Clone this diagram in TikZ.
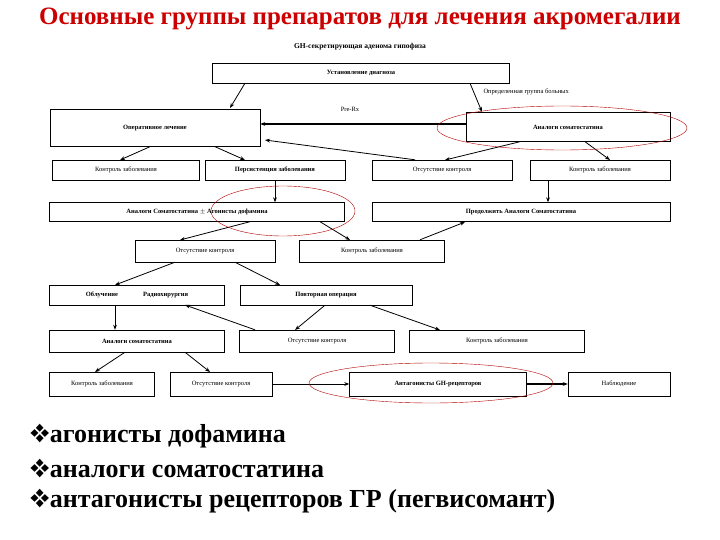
\documentclass[tikz,border=0pt]{standalone}
\usepackage{fontspec}
\setmainfont{Liberation Serif}
\usepackage{pifont}
\usetikzlibrary{arrows.meta}
\begin{document}
\begin{tikzpicture}[
    x=1pt, y=-1pt,
    box/.style = {
      shape=rectangle,
      draw,
      thin,
      align=center,
      inner sep=0pt,
      font=\fontsize{6.5}{7}\selectfont
    },
    bbox/.style = {
      box,
      font=\fontsize{6.5}{7}\selectfont\bfseries
    },
    arrow/.style = {
      -{Stealth[length=5pt]},
      thick
    },
    ring/.style = {
      draw=red!70!black,
      thin
    },
    bullet/.style = {
      anchor=west,
      font=\fontsize{26}{28}\selectfont\bfseries
    }
  ]
    \useasboundingbox (0,0) rectangle (720,540);

    % Title
    \node[text=red!80!black, font=\fontsize{25}{27}\selectfont\bfseries] (title) at (360,19)
      {Основные группы препаратов для лечения акромегалии};
    \node[font=\fontsize{7.5}{8}\selectfont\bfseries] (adenoma) at (360,47)
      {GH-секретирующая аденома гипофиза};

    % Top
    \node[bbox, minimum width=297, minimum height=20] (diagnoz) at (361,73) {Установление диагноза};
    \node[bbox, minimum width=210, minimum height=37] (operacia) at (155,128) {Оперативное лечение};
    \node[bbox, minimum width=204, minimum height=29] (analogi) at (568,127) {Аналоги соматостатина};

    % Second row
    \node[box, minimum width=147, minimum height=20] (kontrol1) at (126,170) {Контроль заболевания};
    \node[bbox, minimum width=140, minimum height=20] (persist) at (275,170) {Персистенция заболевания};
    \node[box, minimum width=140, minimum height=20] (otsut1) at (442,170) {Отсутствие контроля};
    \node[box, minimum width=140, minimum height=20] (kontrol2) at (600,170) {Контроль заболевания};

    % Third row
    \node[bbox, minimum width=295, minimum height=19] (agonisty) at (197,212) {Аналоги Соматостатина $\pm$ Агонисты дофамина};
    \node[bbox, minimum width=298, minimum height=19] (prodolzh) at (521,212) {Продолжить Аналоги Соматостатина};

    % Fourth row
    \node[box, minimum width=140, minimum height=22] (otsut2) at (205,251) {Отсутствие контроля};
    \node[box, minimum width=145, minimum height=22] (kontrol3) at (372,251) {Контроль заболевания};

    % Fifth row
    \node[bbox, minimum width=175, minimum height=20] (obluch) at (137,295) {Облучение \hspace{22pt} Радиохирургия};
    \node[bbox, minimum width=172, minimum height=20] (povtor) at (326,295) {Повторная операция};

    % Sixth row
    \node[bbox, minimum width=175, minimum height=22] (analogi2) at (137,341) {Аналоги соматостатина};
    \node[box, minimum width=155, minimum height=22] (otsut3) at (317,341) {Отсутствие контроля};
    \node[box, minimum width=175, minimum height=22] (kontrol4) at (497,341) {Контроль заболевания};

    % Bottom row
    \node[box, minimum width=105, minimum height=24] (kontrol5) at (102,384) {Контроль заболевания};
    \node[box, minimum width=102, minimum height=24] (otsut4) at (221,384) {Отсутствие контроля};
    \node[bbox, minimum width=177, minimum height=24] (antagon) at (438,384) {Антагонисты GH-рецепторов};
    \node[box, minimum width=102, minimum height=24] (nablud) at (619,384) {Наблюдение};

    % Labels
    \node[font=\fontsize{6.5}{7}\selectfont, anchor=west] (gruppa) at (480,92) {Определенная группа больных};
    \node[font=\fontsize{6.5}{7}\selectfont] (prerx) at (350,109) {Pre-Rx};

    % Arrows
    \draw[arrow] (diagnoz.south -| 245,0) -- (230,108);
    \draw[arrow] (diagnoz.south -| 470,0) -- (482,112);
    \draw[arrow, line width=1.5pt] (analogi.west |- 0,124) -- (operacia.east |- 0,124);
    \draw[arrow] (otsut1.north -| 415,0) -- (265,140);
    \draw[arrow] (operacia.south -| 150,0) -- (120,160);
    \draw[arrow] (operacia.south -| 215,0) -- (245,160);
    \draw[arrow] (analogi.south -| 520,0) -- (445,160);
    \draw[arrow] (analogi.south -| 585,0) -- (610,160);
    \draw[arrow] (persist) -- (persist |- agonisty.north);
    \draw[arrow] (kontrol2.south -| 548,0) -- (prodolzh.north -| 548,0);
    \draw[arrow] (agonisty.south -| 250,0) -- (180,240);
    \draw[arrow] (agonisty.south -| 320,0) -- (350,240);
    \draw[arrow] (kontrol3.north -| 420,0) -- (465,222);
    \draw[arrow] (otsut2.south -| 175,0) -- (115,285);
    \draw[arrow] (otsut2.south -| 235,0) -- (280,285);
    \draw[arrow] (obluch.south -| 115,0) -- (analogi2.north -| 115,0);
    \draw[arrow] (povtor.south -| 325,0) -- (295,330);
    \draw[arrow] (povtor.south -| 370,0) -- (440,330);
    \draw[arrow] (otsut3.north -| 255,0) -- (185,305);
    \draw[arrow] (analogi2.south -| 125,0) -- (95,372);
    \draw[arrow] (analogi2.south -| 185,0) -- (210,372);
    \draw[arrow] (otsut4) -- (antagon);
    \draw[arrow, line width=1.2pt] (antagon) -- (nablud);

    % Highlights
    \draw[ring] (562,128) ellipse (125 and 22);
    \draw[ring] (283,211) ellipse (72 and 25);
    \draw[ring] (431,383) ellipse (122 and 20);

    % Bullets
    \node[bullet] (b1) at (26,436) {\ding{118}агонисты дофамина};
    \node[bullet] (b2) at (26,468) {\ding{118}аналоги соматостатина};
    \node[bullet] (b3) at (26,501) {\ding{118}антагонисты рецепторов ГР (пегвисомант)};
\end{tikzpicture}
\end{document}
